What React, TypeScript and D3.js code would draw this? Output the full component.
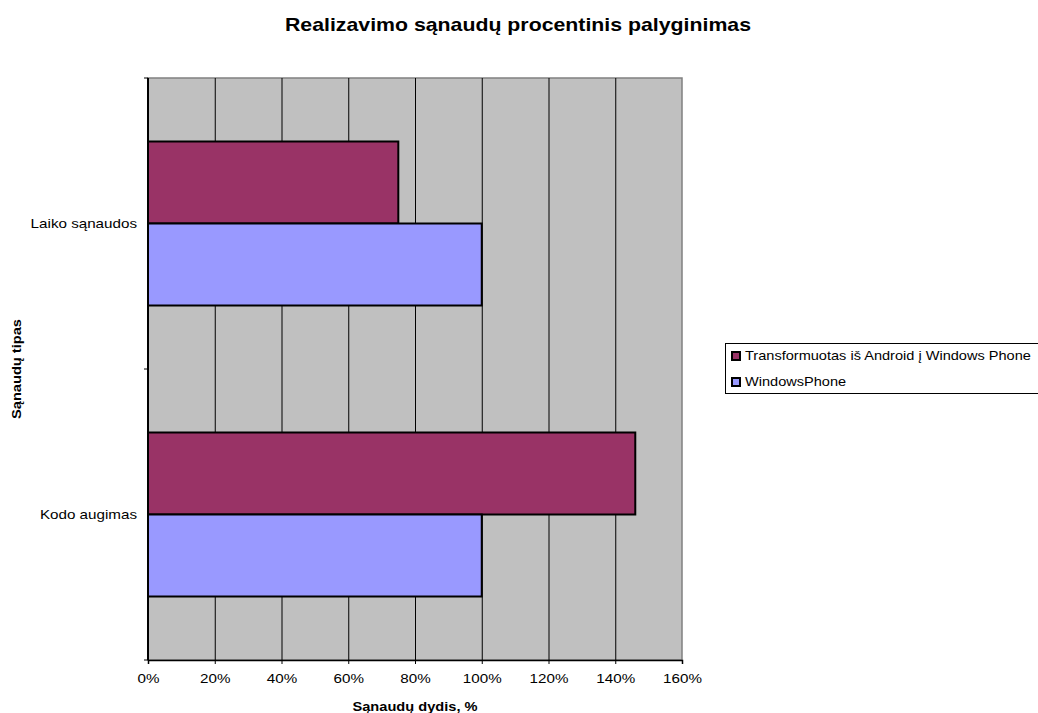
import React, { useEffect, useRef } from "react";
import * as d3 from "d3";

// chart data
const categories = ["Laiko sąnaudos", "Kodo augimas"];
const seriesNames = ["Transformuotas iš Android į Windows Phone", "WindowsPhone"];
const seriesColors = ["#993366", "#9999FF"];
const transformuotas = [75, 146];
const windowsPhone = [100, 100];
const xTicks = [0, 20, 40, 60, 80, 100, 120, 140, 160];

const width = 1038;
const height = 713;
// the source text is drawn a bit wider than plain Arial
const stretch = 1.17;

const App: React.FC = () => {
  const svgRef = useRef<SVGSVGElement | null>(null);

  useEffect(() => {
    if (!svgRef.current) return;
    const svg = d3.select(svgRef.current);
    svg.selectAll("*").remove();

    const margin = { top: 78, left: 148, right: 356, bottom: 53 };
    const innerW = width - margin.left - margin.right;
    const innerH = height - margin.top - margin.bottom;
    const font = "Liberation Sans, Arial, sans-serif";

    const x = d3.scaleLinear().domain([0, 160]).range([0, innerW]);
    const y = d3.scaleBand<string>().domain(categories).range([0, innerH]).paddingInner(0).paddingOuter(0);
    const inner = d3.scaleBand<number>().domain([0, 1]).range([0, y.bandwidth() * 0.5636]);
    const groupOffset = (y.bandwidth() - inner.range()[1]) / 2;

    // title
    svg
      .append("text")
      .attr("transform", `translate(518,31) scale(${stretch},1)`)
      .attr("text-anchor", "middle")
      .attr("font-family", font)
      .attr("font-weight", "bold")
      .attr("font-size", "18.2px")
      .text("Realizavimo sąnaudų procentinis palyginimas");

    const g = svg.append("g").attr("transform", `translate(${margin.left},${margin.top})`);

    // plot background
    g.append("rect")
      .attr("width", innerW)
      .attr("height", innerH)
      .attr("fill", "#C0C0C0")
      .attr("stroke", "#808080")
      .attr("stroke-width", 1.5);

    // grid lines
    g.selectAll(".grid")
      .data(xTicks.slice(1, -1))
      .enter()
      .append("line")
      .attr("x1", (d) => x(d) + 0.5)
      .attr("x2", (d) => x(d) + 0.5)
      .attr("y1", 0)
      .attr("y2", innerH)
      .attr("stroke", "#000")
      .attr("stroke-width", 1);

    // bars
    const series = [transformuotas, windowsPhone];
    series.forEach((vals, si) => {
      g.selectAll(`.bar-${si}`)
        .data(vals)
        .enter()
        .append("rect")
        .attr("x", 0)
        .attr("y", (d, i) => (y(categories[i]) as number) + groupOffset + (inner(si) as number))
        .attr("width", (d) => x(d))
        .attr("height", inner.bandwidth())
        .attr("fill", seriesColors[si])
        .attr("stroke", "#000")
        .attr("stroke-width", 2);
    });

    // x axis
    const xAxis = g
      .append("g")
      .attr("transform", `translate(0,${innerH})`)
      .call(
        d3
          .axisBottom(x)
          .tickValues(xTicks)
          .tickSize(4)
          .tickPadding(10)
          .tickFormat((d) => `${d}%`)
      );
    xAxis.select(".domain").attr("stroke", "#000").attr("stroke-width", 1.5);
    xAxis.selectAll("line").attr("stroke", "#000");
    xAxis
      .selectAll("text")
      .attr("font-family", font)
      .attr("font-size", "13px")
      .attr("fill", "#000")
      .attr("transform", `scale(${stretch},1)`);

    // y axis
    const yAxis = g.append("g");
    yAxis
      .append("line")
      .attr("x1", 0)
      .attr("x2", 0)
      .attr("y1", 0)
      .attr("y2", innerH)
      .attr("stroke", "#000")
      .attr("stroke-width", 2);
    yAxis
      .selectAll(".ytick")
      .data([0, 1, 2])
      .enter()
      .append("line")
      .attr("x1", -4)
      .attr("x2", 0)
      .attr("y1", (d) => d * y.step())
      .attr("y2", (d) => d * y.step())
      .attr("stroke", "#000");
    yAxis
      .selectAll(".ylabel")
      .data(categories)
      .enter()
      .append("text")
      .attr("transform", (d) => `translate(-11,${(y(d) as number) + y.bandwidth() / 2}) scale(${stretch},1)`)
      .attr("dy", "0.35em")
      .attr("text-anchor", "end")
      .attr("font-family", font)
      .attr("font-size", "13px")
      .text((d) => d);

    // axis titles
    svg
      .append("text")
      .attr("transform", `translate(415,711) scale(${stretch},1)`)
      .attr("text-anchor", "middle")
      .attr("font-family", font)
      .attr("font-weight", "bold")
      .attr("font-size", "12.5px")
      .text("Sąnaudų dydis, %");

    svg
      .append("text")
      .attr("transform", `translate(21,${margin.top + innerH / 2}) rotate(-90) scale(${stretch},1)`)
      .attr("text-anchor", "middle")
      .attr("font-family", font)
      .attr("font-weight", "bold")
      .attr("font-size", "12.5px")
      .text("Sąnaudų tipas");

    // legend
    const legend = svg.append("g").attr("transform", "translate(725,343)");
    legend
      .append("rect")
      .attr("x", 0.5)
      .attr("y", 0.5)
      .attr("width", 330)
      .attr("height", 50)
      .attr("fill", "#fff")
      .attr("stroke", "#000");
    seriesNames.forEach((name, i) => {
      const row = legend.append("g").attr("transform", `translate(7,${12.5 + i * 26})`);
      row
        .append("rect")
        .attr("x", 0)
        .attr("y", -3.5)
        .attr("width", 8)
        .attr("height", 8)
        .attr("fill", seriesColors[i])
        .attr("stroke", "#000")
        .attr("stroke-width", 2);
      row
        .append("text")
        .attr("transform", `translate(13,0) scale(1.12,1)`)
        .attr("dy", "0.35em")
        .attr("font-family", font)
        .attr("font-size", "13px")
        .text(name);
    });
  }, []);

  return (
    <svg
      ref={svgRef}
      width={width}
      height={height}
      style={{ position: "absolute", left: 0, top: 0, background: "#fff" }}
    />
  );
};

export default App;
